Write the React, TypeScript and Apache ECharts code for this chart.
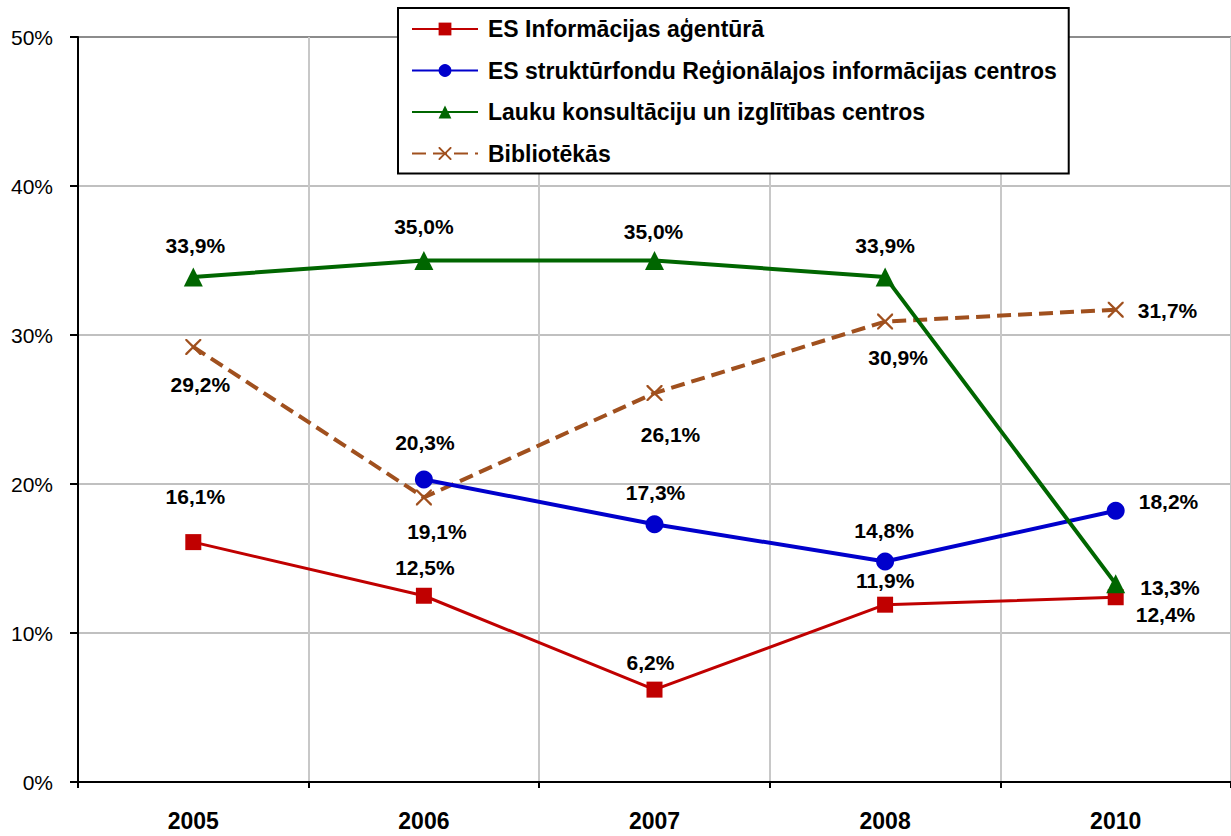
import React, { useEffect, useRef } from "react";
import * as echarts from "echarts";

const categories = ["2005", "2006", "2007", "2008", "2010"];
const seriesNames = [
  "ES Informācijas aģentūrā",
  "ES struktūrfondu Reģionālajos informācijas centros",
  "Lauku konsultāciju un izglītības centros",
  "Bibliotēkās",
];
const agenturaValues = [16.1, 12.5, 6.2, 11.9, 12.4];
const strukturfonduValues = [null, 20.3, 17.3, 14.8, 18.2];
const laukuValues = [33.9, 35.0, 35.0, 33.9, 13.3];
const bibliotekasValues = [29.2, 19.1, 26.1, 30.9, 31.7];
const yTicks = [0, 10, 20, 30, 40, 50];

// label placement per point: [position, distance, dx, dy]
type Place = [string, number, number, number];
const agenturaPlace: Place[] = [
  ["top", 27, 2, 0],
  ["top", 10, 1, 0],
  ["top", 9, -4, 0],
  ["top", 6, 0, 0],
  ["right", 12, 0, 17],
];
const strukturPlace: Place[] = [
  ["top", 10, 0, 0],
  ["top", 18, 1, 0],
  ["top", 12, 1, 0],
  ["top", 11, -1, 0],
  ["right", 14, 0, -9],
];
const laukuPlace: Place[] = [
  ["top", 11, 2, 0],
  ["top", 14, 0, 0],
  ["top", 9, -1, 0],
  ["top", 11, 0, 0],
  ["right", 15, 0, 4],
];
const biblioPlace: Place[] = [
  ["bottom", 19, 7, 0],
  ["bottom", 16, 13, 0],
  ["bottom", 23, 16, 0],
  ["bottom", 17, 13, 0],
  ["right", 14, 0, 1],
];

const FONT = "Liberation Sans, Arial, sans-serif";

function fmt(v: number) {
  return v.toFixed(1).replace(".", ",") + "%";
}

function makeData(values: (number | null)[], place: Place[]) {
  return values.map((v, i) => {
    if (v === null) return null;
    const [position, distance, dx, dy] = place[i];
    return {
      value: v,
      label: {
        show: true,
        position,
        distance,
        offset: [dx, dy],
        formatter: fmt(v),
        fontFamily: FONT,
        fontWeight: "bold",
        fontSize: 21,
        lineHeight: 21,
        color: "#000",
      },
    };
  });
}

export default function App() {
  const ref = useRef<HTMLDivElement>(null);
  useEffect(() => {
    document.body.style.margin = "0";
    const chart = echarts.init(ref.current!, null, { renderer: "svg" });
    const gridColors = yTicks.map((t, i) => (i === yTicks.length - 1 ? "#8c8c8c" : "#c0c0c0"));
    chart.setOption({
      animation: false,
      backgroundColor: "#fff",
      grid: { left: 78, top: 37, width: 1157, height: 745, containLabel: false },
      legend: {
        orient: "vertical",
        left: 398,
        top: 8,
        padding: [9, 12, 8, 13],
        itemWidth: 66,
        itemHeight: 16,
        itemGap: 17.5,
        backgroundColor: "#fff",
        borderColor: "#000",
        borderWidth: 2,
        borderRadius: 0,
        z: 10,
        textStyle: {
          fontFamily: FONT,
          fontWeight: "bold",
          fontSize: 23,
          lineHeight: 24,
          color: "#000",
          padding: [0, 0, 0, 5],
        },
        data: seriesNames,
      },
      xAxis: {
        type: "category",
        data: categories,
        boundaryGap: true,
        axisLine: { show: true, lineStyle: { color: "#000", width: 2 } },
        axisTick: { show: true, alignWithLabel: false, length: 6, lineStyle: { color: "#000", width: 2 } },
        axisLabel: {
          margin: 27,
          fontFamily: FONT,
          fontWeight: "bold",
          fontSize: 23,
          color: "#000",
        },
        splitLine: { show: true, lineStyle: { color: "#c8c8c8", width: 2 } },
      },
      yAxis: {
        type: "value",
        min: 0,
        max: 50,
        interval: 10,
        axisLine: { show: true, lineStyle: { color: "#000", width: 2 } },
        axisTick: { show: true, length: 8, lineStyle: { color: "#000", width: 2 } },
        axisLabel: {
          margin: 25,
          formatter: "{value}%",
          fontFamily: FONT,
          fontSize: 21,
          color: "#000",
        },
        splitLine: { show: true, lineStyle: { color: gridColors, width: 2 } },
      },
      series: [
        {
          name: seriesNames[0],
          type: "line",
          data: makeData(agenturaValues, agenturaPlace),
          symbol: "rect",
          symbolSize: 16,
          itemStyle: { color: "#c00000" },
          lineStyle: { color: "#c00000", width: 3 },
          z: 3,
        },
        {
          name: seriesNames[1],
          type: "line",
          data: makeData(strukturfonduValues, strukturPlace),
          symbol: "circle",
          symbolSize: 18,
          itemStyle: { color: "#0000cc" },
          lineStyle: { color: "#0000cc", width: 4 },
          z: 3,
        },
        {
          name: seriesNames[2],
          type: "line",
          data: makeData(laukuValues, laukuPlace),
          symbol: "triangle",
          symbolSize: 19,
          itemStyle: { color: "#006600" },
          lineStyle: { color: "#006600", width: 4 },
          z: 4,
        },
        {
          name: seriesNames[3],
          type: "line",
          data: makeData(bibliotekasValues, biblioPlace),
          symbol:
            "path://M0,0 L2,0 L10,8 L18,0 L20,0 L20,2 L12,10 L20,18 L20,20 L18,20 L10,12 L2,20 L0,20 L0,18 L8,10 L0,2 Z",
          symbolSize: 16,
          itemStyle: { color: "#a0501e" },
          lineStyle: { color: "#a0501e", width: 4, type: [14, 7] },
          z: 2,
        },
      ],
    });
    return () => chart.dispose();
  }, []);
  return <div ref={ref} style={{ width: 1231, height: 836 }} />;
}
